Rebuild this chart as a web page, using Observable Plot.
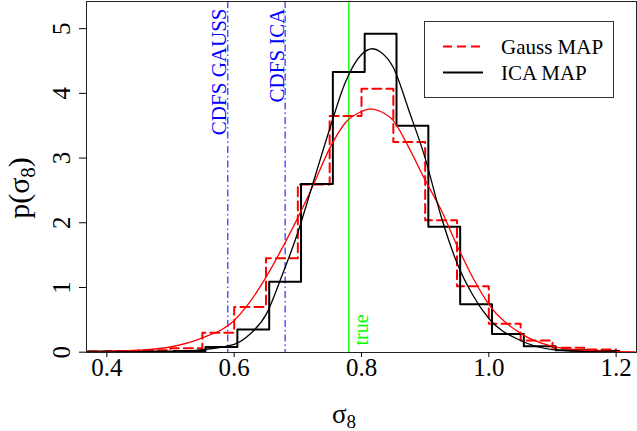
<!DOCTYPE html>
<html>
<head>
<meta charset="utf-8">
<script src="https://cdn.jsdelivr.net/npm/d3@7"></script>
<script src="https://cdn.jsdelivr.net/npm/@observablehq/plot@0.6"></script>
<style>
  body { margin: 0; background: #fff; }
</style>
</head>
<body>
<div id="chart"></div>
<script>
// axis ticks
const xTicks = [0.4, 0.6, 0.8, 1.0, 1.2];
const yTicks = [0, 1, 2, 3, 4, 5];

// histogram of the Gauss MAP (red dashed), bin edges + heights
const gaussEdges = [0.35, 0.40, 0.45, 0.50, 0.55, 0.60, 0.65, 0.70, 0.75, 0.80, 0.85, 0.90, 0.95, 1.00, 1.05, 1.10, 1.15, 1.20];
const gaussHist = [0.01, 0.02, 0.03, 0.06, 0.30, 0.70, 1.45, 2.59, 3.65, 4.07, 3.25, 2.04, 1.02, 0.44, 0.18, 0.07, 0.04];

// histogram of the ICA MAP (black)
const icaEdges = [0.355, 0.405, 0.455, 0.505, 0.555, 0.605, 0.655, 0.705, 0.755, 0.805, 0.855, 0.905, 0.955, 1.005, 1.055, 1.105, 1.155, 1.205];
const icaHist = [0.01, 0.01, 0.01, 0.02, 0.08, 0.35, 1.09, 2.60, 4.33, 4.92, 3.50, 1.94, 0.74, 0.28, 0.09, 0.03, 0.02];

// smooth fits
const gaussFitX = [0.37, 0.40, 0.45, 0.50, 0.55, 0.60, 0.625, 0.65, 0.675, 0.70, 0.725, 0.75, 0.775, 0.80, 0.815, 0.83, 0.85, 0.875, 0.90, 0.925, 0.95, 0.975, 1.00, 1.05, 1.10, 1.15, 1.20, 1.23];
const gaussFitY = [0.005, 0.01, 0.03, 0.08, 0.22, 0.49, 0.78, 1.16, 1.60, 2.08, 2.60, 3.15, 3.55, 3.72, 3.76, 3.72, 3.58, 3.15, 2.66, 2.20, 1.65, 1.15, 0.74, 0.29, 0.09, 0.03, 0.01, 0.005];

const icaFitX = [0.37, 0.45, 0.50, 0.55, 0.60, 0.625, 0.65, 0.675, 0.70, 0.725, 0.75, 0.775, 0.80, 0.817, 0.83, 0.85, 0.875, 0.90, 0.925, 0.95, 0.975, 1.00, 1.05, 1.10, 1.15, 1.20];
const icaFitY = [0.0, 0.005, 0.01, 0.04, 0.12, 0.28, 0.58, 1.18, 1.85, 2.65, 3.45, 4.18, 4.60, 4.69, 4.64, 4.40, 3.72, 3.00, 2.10, 1.38, 0.88, 0.52, 0.18, 0.04, 0.01, 0.005];

// reference values
const markers = [
  {name: "CDFS GAUSS", value: 0.59},
  {name: "CDFS ICA", value: 0.68}
];
const trueSigma8 = 0.78;

function steps(edges, h) {
  return edges.map((e, i) => ({x: e, y: h[Math.min(i, h.length - 1)]}));
}
function pairs(xs, ys) {
  return xs.map((x, i) => ({x, y: ys[i]}));
}

const serif = "Liberation Serif, Times New Roman, serif";

const chart = Plot.plot({
  width: 637,
  height: 431,
  marginLeft: 86,
  marginRight: 1,
  marginTop: 1,
  marginBottom: 79,
  style: {fontFamily: serif, fontSize: "25px", background: "white", color: "black"},
  x: {domain: [0.368, 1.232], label: null},
  y: {domain: [-0.005, 5.42], label: null},
  marks: [
    Plot.ruleX(markers, {x: "value", stroke: "blue", strokeWidth: 1, strokeDasharray: "7,3,1.5,3"}),
    Plot.ruleX([trueSigma8], {stroke: "#00ff00", strokeWidth: 1.3}),
    Plot.line(steps(gaussEdges, gaussHist), {x: "x", y: "y", curve: "step-after", stroke: "red", strokeWidth: 2, strokeDasharray: "9,5", clip: true}),
    Plot.line(steps(icaEdges, icaHist), {x: "x", y: "y", curve: "step-after", stroke: "black", strokeWidth: 2, clip: true}),
    Plot.line(pairs(gaussFitX, gaussFitY), {x: "x", y: "y", curve: "monotone-x", stroke: "red", strokeWidth: 1.3, clip: true}),
    Plot.line(pairs(icaFitX, icaFitY), {x: "x", y: "y", curve: "monotone-x", stroke: "black", strokeWidth: 1.3, clip: true}),
    Plot.text(markers, {x: "value", text: "name", frameAnchor: "top", rotate: -90, textAnchor: "end", lineAnchor: "top", dx: -16.5, dy: 7, fill: "blue", fontSize: 21}),
    Plot.text(["true"], {x: trueSigma8, text: d => d, frameAnchor: "bottom", rotate: -90, textAnchor: "start", lineAnchor: "top", dx: 5.5, dy: -7, fill: "#00ff00", fontSize: 20}),
    Plot.frame({stroke: "#222"}),
    Plot.axisX(xTicks, {tickSize: 5, tickPadding: 1, tickFormat: d => d.toFixed(1), label: null, fontSize: 25}),
    Plot.axisY(yTicks, {tickSize: 7, tickFormat: () => "", label: null}),
    Plot.text(yTicks, {y: d => d, text: d => String(d), frameAnchor: "left", rotate: -90, textAnchor: "middle", lineAnchor: "middle", dx: -24.5, fontSize: 25})
  ]
});

const svg = d3.select(chart);

// axis titles with subscripts
const yl = svg.append("text")
  .attr("transform", "translate(29,188) rotate(-90)")
  .attr("text-anchor", "middle")
  .attr("font-family", serif)
  .attr("font-size", 30)
  .attr("fill", "black");
yl.append("tspan").text("p(σ");
yl.append("tspan").attr("font-size", 21).attr("dy", 6).text("8");
yl.append("tspan").attr("dy", -6).text(")");

const xl = svg.append("text")
  .attr("x", 344)
  .attr("y", 423)
  .attr("text-anchor", "middle")
  .attr("font-family", serif)
  .attr("font-size", 27)
  .attr("fill", "black");
xl.append("tspan").text("σ");
xl.append("tspan").attr("font-size", 19).attr("dy", 5).text("8");

// legend box
const lg = svg.append("g")
  .attr("font-family", serif)
  .attr("font-size", 21)
  .attr("text-anchor", "start");
lg.append("rect")
  .attr("x", 424.5).attr("y", 21.5).attr("width", 189).attr("height", 76)
  .attr("fill", "white").attr("stroke", "#333").attr("stroke-width", 1);
lg.append("line")
  .attr("x1", 443).attr("x2", 483).attr("y1", 46.5).attr("y2", 46.5)
  .attr("stroke", "red").attr("stroke-width", 2).attr("stroke-dasharray", "9,5");
lg.append("line")
  .attr("x1", 443).attr("x2", 483).attr("y1", 72.5).attr("y2", 72.5)
  .attr("stroke", "black").attr("stroke-width", 2);
lg.append("text").attr("x", 501).attr("y", 54).attr("fill", "black").text("Gauss MAP");
lg.append("text").attr("x", 501).attr("y", 80).attr("fill", "black").text("ICA MAP");

d3.select("#chart").append(() => chart);
</script>
</body>
</html>
